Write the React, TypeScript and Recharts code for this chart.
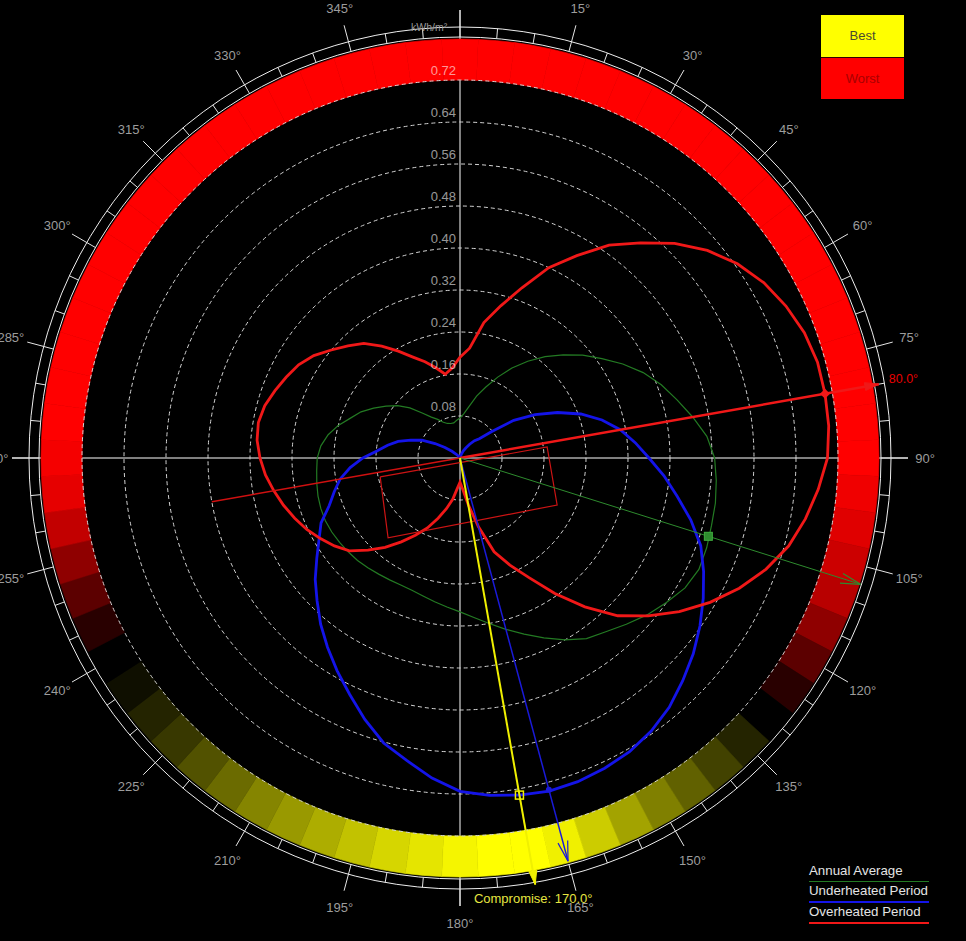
import React from 'react';
import {
  RadarChart, Radar, PolarGrid, PolarAngleAxis, PolarRadiusAxis,
  PieChart, Pie, Cell, ComposedChart, Line, Scatter, XAxis, YAxis, ReferenceLine,
} from 'recharts';

// compass angles, clockwise from north (categories of the radar)
const ANGLES = [
  0, 5, 10, 15, 20, 25, 30, 35, 40, 45, 50, 55, 60, 65, 70, 75, 80, 85,
  90, 95, 100, 105, 110, 115, 120, 125, 130, 135, 140, 145, 150, 155, 160, 165, 170, 175,
  180, 185, 190, 195, 200, 205, 210, 215, 220, 225, 230, 235, 240, 245, 250, 255, 260, 265,
  270, 275, 280, 285, 290, 295, 300, 305, 310, 315, 320, 325, 330, 335, 340, 345, 350, 355,
];

// incident radiation, kWh/m²
const OVERHEATED = [
  0.192, 0.21, 0.262, 0.3, 0.345, 0.4, 0.445, 0.495, 0.535, 0.578, 0.615, 0.645, 0.668, 0.685, 0.698, 0.705, 0.706, 0.705,
  0.7, 0.685, 0.668, 0.648, 0.62, 0.587, 0.55, 0.51, 0.468, 0.425, 0.37, 0.315, 0.263, 0.225, 0.19, 0.135, 0.09, 0.06,
  0.046, 0.058, 0.08, 0.1, 0.122, 0.147, 0.17, 0.195, 0.222, 0.248, 0.275, 0.292, 0.307, 0.322, 0.335, 0.348, 0.36, 0.372,
  0.381, 0.388, 0.39, 0.385, 0.375, 0.365, 0.355, 0.34, 0.32, 0.302, 0.285, 0.26, 0.235, 0.212, 0.195, 0.178, 0.162, 0.172,
];
const UNDERHEATED = [
  0, 0, 0, 0.003, 0.008, 0.015, 0.022, 0.032, 0.043, 0.052, 0.078, 0.125, 0.165, 0.205, 0.245, 0.28, 0.31, 0.335,
  0.36, 0.39, 0.42, 0.455, 0.488, 0.512, 0.535, 0.558, 0.58, 0.6, 0.62, 0.635, 0.646, 0.652, 0.656, 0.657, 0.652, 0.645,
  0.635, 0.612, 0.585, 0.562, 0.53, 0.497, 0.468, 0.44, 0.413, 0.385, 0.36, 0.333, 0.31, 0.292, 0.265, 0.248, 0.232, 0.21,
  0.185, 0.158, 0.14, 0.122, 0.1, 0.08, 0.055, 0.035, 0.02, 0.01, 0.005, 0.002, 0, 0, 0, 0, 0, 0,
];
const ANNUAL_AVG = [
  0.076, 0.085, 0.1, 0.122, 0.144, 0.17, 0.198, 0.225, 0.252, 0.278, 0.305, 0.33, 0.358, 0.385, 0.408, 0.428, 0.45, 0.472,
  0.485, 0.49, 0.494, 0.496, 0.5, 0.502, 0.495, 0.48, 0.465, 0.448, 0.432, 0.42, 0.4, 0.378, 0.357, 0.338, 0.32, 0.305,
  0.293, 0.285, 0.278, 0.272, 0.268, 0.267, 0.268, 0.27, 0.273, 0.276, 0.278, 0.28, 0.282, 0.283, 0.282, 0.28, 0.277, 0.274,
  0.272, 0.266, 0.255, 0.24, 0.222, 0.208, 0.19, 0.172, 0.155, 0.135, 0.112, 0.095, 0.085, 0.075, 0.07, 0.068, 0.068, 0.072,
];

// orientation rating per angle: 0 = worst (red), 0.5 = neutral, 1 = best (yellow)
const RATING = [
  0, 0, 0, 0, 0, 0, 0, 0, 0, 0, 0, 0, 0, 0, 0, 0, 0, 0,
  0, 0.03, 0.06, 0.1, 0.14, 0.22, 0.32, 0.42, 0.5, 0.57, 0.63, 0.69, 0.75, 0.82, 0.9, 0.97, 1, 1,
  0.98, 0.95, 0.92, 0.88, 0.84, 0.8, 0.76, 0.71, 0.66, 0.61, 0.57, 0.53, 0.5, 0.42, 0.32, 0.22, 0.12, 0.05,
  0.02, 0, 0, 0, 0, 0, 0, 0, 0, 0, 0, 0, 0, 0, 0, 0, 0, 0,
];

const RADIUS_TICKS = [0.08, 0.16, 0.24, 0.32, 0.4, 0.48, 0.56, 0.64, 0.72];

// optimum orientations: overheated, annual average, underheated, compromise
const OPT_KEYS = ['over', 'avg', 'under', 'compromise'];
const OPT_ANGLES = [80, 107.5, 165, 170];
const OPT_MARKS = [0.706, 0.496, 0.654, 0.652];
const OPT_REACH = [0.81, 0.8, 0.795, 0.825];
const OPT_LABELS = ['80.0°', '', '', 'Compromise: 170.0°'];
const OVER_BACK_ANGLE = 260;
const OVER_BACK_VALUE = 0.48;

// building outline (x = east, y = north, kWh/m² units)
const BUILDING_X = [-0.152, -0.137, 0.185, 0.166, -0.152];
const BUILDING_Y = [-0.036, -0.152, -0.0895, 0.021, -0.036];

const W = 966;
const H = 941;
const CX = 460;
const CY = 458;
const R_MAX = 378; // radius of the 0.72 ring
const V_MAX = 0.72;
const PX = R_MAX / V_MAX; // px per kWh/m², also the radius of 1.0
const BAND_OUT = 419;
const RING_IN = 421;
const RING_OUT = 431;
const MAJOR_OUT = 448;
const LABEL_R = 465;
const FONT = '"Liberation Sans", Arial, sans-serif';
const NOMARGIN = { top: 0, right: 0, bottom: 0, left: 0 };

const X_DOMAIN = [-CX / PX, (W - CX) / PX];
const Y_DOMAIN = [-(H - CY) / PX, CY / PX];

const STYLE: Record<string, any> = {
  over: { color: '#f01818', width: 2.5, arrow: 'solid', mark: 'diamond', text: '#e80000' },
  avg: { color: '#2e8b2e', width: 1, arrow: 'open', mark: 'square' },
  under: { color: '#1a1ad8', width: 1.5, arrow: 'open', mark: 'dot' },
  compromise: { color: '#f0f000', width: 2, arrow: 'solid', mark: 'box', text: '#e6e640' },
};

const SERIES = [
  { key: 'avg', name: 'Annual Average', color: '#237a23', width: 1.2 },
  { key: 'under', name: 'Underheated Period', color: '#1414e8', width: 2.8 },
  { key: 'over', name: 'Overheated Period', color: '#f01818', width: 2.8 },
];

const rad = (a: number) => (a * Math.PI) / 180;
const polar = (angle: number, value: number) => ({
  x: value * Math.sin(rad(angle)),
  y: value * Math.cos(rad(angle)),
});

const radarRows = ANGLES.map((a, i) => ({
  angle: a,
  over: OVERHEATED[i],
  under: UNDERHEATED[i],
  avg: ANNUAL_AVG[i],
}));

const bandRows = ANGLES.map((a, i) => ({ angle: a, w: 1, rating: RATING[i] }));

const bandColor = (s: number) => {
  if (s <= 0.5) return `rgb(${Math.round(255 * (1 - 2 * s))},0,0)`;
  const k = Math.round(255 * (2 * s - 1));
  return `rgb(${k},${k},0)`;
};

const buildingRows = BUILDING_X.map((x, i) => ({ x, y: BUILDING_Y[i] }));

const optLines = OPT_KEYS.map((key, i) => {
  const pts = [{ x: 0, y: 0, key, angle: OPT_ANGLES[i], label: '' }];
  pts.push({ ...polar(OPT_ANGLES[i], OPT_REACH[i]), key, angle: OPT_ANGLES[i], label: OPT_LABELS[i] });
  return pts;
});
const overBack = [{ x: 0, y: 0 }, polar(OVER_BACK_ANGLE, OVER_BACK_VALUE)];
const optMarks = OPT_KEYS.map((key, i) => ({ ...polar(OPT_ANGLES[i], OPT_MARKS[i]), key }));

const AngleTick = (props: any) => {
  const a = Number(props.payload.value);
  const sx = Math.sin(rad(a));
  const sy = -Math.cos(rad(a));
  const major = a % 15 === 0;
  const r2 = major ? MAJOR_OUT : RING_OUT;
  // the north label sits above the window in the original, so it is not drawn
  return (
    <g>
      <line x1={CX + sx * RING_IN} y1={CY + sy * RING_IN} x2={CX + sx * r2} y2={CY + sy * r2} stroke="#e6e6e6" strokeWidth={1} />
      {major && a !== 0 && (
        <text x={CX + sx * LABEL_R} y={CY + sy * LABEL_R} textAnchor="middle" dominantBaseline="central"
          fill="#9c9c9c" fontSize={13} fontFamily={FONT}>
          {a}°
        </text>
      )}
    </g>
  );
};

const RadiusTick = (props: any) => (
  <text x={props.x - 4} y={props.y - 5} textAnchor="end" fill="rgba(255,255,255,0.6)" fontSize={13} fontFamily={FONT}>
    {Number(props.payload.value).toFixed(2)}
  </text>
);

const ArrowTip = (props: any) => {
  const { cx, cy, payload, index } = props;
  if (index === 0 || cx == null) return <g key={`t${index}`} />;
  const st = STYLE[payload.key];
  const a = rad(payload.angle);
  const ux = Math.sin(a);
  const uy = -Math.cos(a);
  const px = -uy;
  const py = ux;
  const len = st.arrow === 'open' ? 20 : 14;
  const half = st.arrow === 'open' ? 5 : 4;
  const bx = cx - ux * len;
  const by = cy - uy * len;
  const p1 = `${bx + px * half},${by + py * half}`;
  const p2 = `${bx - px * half},${by - py * half}`;
  return (
    <g key={`t${index}`}>
      {st.arrow === 'open' ? (
        <polyline points={`${p1} ${cx},${cy} ${p2}`} fill="none" stroke={st.color} strokeWidth={1.2} />
      ) : (
        <polygon points={`${p1} ${cx},${cy} ${p2}`} fill={st.color} stroke={st.color} />
      )}
      {payload.label && payload.key === 'over' && (
        <text x={cx + 10} y={cy - 1} fill={st.text} fontSize={12.5} fontFamily={FONT}>{payload.label}</text>
      )}
      {payload.label && payload.key === 'compromise' && (
        <text x={cx - 2} y={cy + 18} textAnchor="middle" fill={st.text} fontSize={13} fontFamily={FONT}>{payload.label}</text>
      )}
    </g>
  );
};

const Marker = (props: any) => {
  const { cx, cy, payload } = props;
  const st = STYLE[payload.key];
  if (st.mark === 'box') {
    return <rect x={cx - 4} y={cy - 4} width={8} height={8} fill="none" stroke={st.color} strokeWidth={1.5} />;
  }
  if (st.mark === 'square') {
    return <rect x={cx - 4} y={cy - 4} width={8} height={8} fill={st.color} stroke="#3fae3f" />;
  }
  if (st.mark === 'diamond') {
    return <polygon points={`${cx},${cy - 5} ${cx + 5},${cy} ${cx},${cy + 5} ${cx - 5},${cy}`} fill={st.color} />;
  }
  return <circle cx={cx} cy={cy} r={3} fill={st.color} />;
};

const layer: React.CSSProperties = { position: 'absolute', left: 0, top: 0 };

export default function App() {
  const reach = MAJOR_OUT / PX;
  return (
    <div style={{ position: 'absolute', left: 0, top: 0, width: W, height: H, background: '#000', overflow: 'hidden', fontFamily: FONT }}>
      {/* crosshair */}
      <div style={layer}>
        <ComposedChart width={W} height={H} margin={NOMARGIN}>
          <XAxis type="number" dataKey="x" domain={X_DOMAIN} hide allowDataOverflow />
          <YAxis type="number" dataKey="y" domain={Y_DOMAIN} hide allowDataOverflow />
          <ReferenceLine segment={[{ x: -reach, y: 0 }, { x: reach, y: 0 }]} stroke="#ffffff" ifOverflow="visible" />
          <ReferenceLine segment={[{ x: 0, y: -reach }, { x: 0, y: reach }]} stroke="#ffffff" ifOverflow="visible" />
        </ComposedChart>
      </div>

      {/* best / worst band */}
      <div style={layer}>
        <PieChart width={W} height={H} margin={NOMARGIN}>
          <Pie data={bandRows} dataKey="w" nameKey="angle" cx={CX} cy={CY} innerRadius={R_MAX} outerRadius={BAND_OUT}
            startAngle={92.5} endAngle={-267.5} paddingAngle={0} isAnimationActive={false}>
            {bandRows.map((r) => (
              <Cell key={r.angle} fill={bandColor(r.rating)} stroke={bandColor(r.rating)} strokeWidth={0.6} />
            ))}
          </Pie>
        </PieChart>
      </div>

      {/* grid, axes and radiation curves; radius axis runs 0..1 kWh/m² over PX pixels */}
      <div style={layer}>
        <RadarChart width={W} height={H} data={radarRows} cx={CX} cy={CY} outerRadius={PX} margin={NOMARGIN}
          startAngle={90} endAngle={-270}>
          <PolarGrid gridType="circle" radialLines={false} stroke="#d4d4d4" strokeDasharray="4 3" />
          <PolarGrid gridType="circle" radialLines={false} polarRadius={[RING_IN, RING_OUT]} stroke="#eeeeee" />
          <PolarAngleAxis dataKey="angle" axisLine={false} tickLine={false} tick={AngleTick} />
          <PolarRadiusAxis angle={90} type="number" domain={[0, 1]} allowDataOverflow ticks={RADIUS_TICKS}
            axisLine={false} tickLine={false} tick={RadiusTick} />
          {SERIES.map((s) => (
            <Radar key={s.key} name={s.name} dataKey={s.key} stroke={s.color} strokeWidth={s.width}
              fill="none" fillOpacity={0} dot={false} activeDot={false} isAnimationActive={false} />
          ))}
        </RadarChart>
      </div>

      {/* optimum orientation lines and building */}
      <div style={layer}>
        <ComposedChart width={W} height={H} margin={NOMARGIN}>
          <XAxis type="number" dataKey="x" domain={X_DOMAIN} hide allowDataOverflow />
          <YAxis type="number" dataKey="y" domain={Y_DOMAIN} hide allowDataOverflow />
          <Line data={buildingRows} dataKey="y" type="linear" stroke="#cc1414" strokeWidth={1.2} dot={false}
            activeDot={false} isAnimationActive={false} />
          <Line data={overBack} dataKey="y" type="linear" stroke="#d01010" strokeWidth={1.4} dot={false}
            activeDot={false} isAnimationActive={false} />
          {optLines.map((pts) => (
            <Line key={pts[0].key} data={pts} dataKey="y" type="linear" stroke={STYLE[pts[0].key].color}
              strokeWidth={STYLE[pts[0].key].width} dot={ArrowTip} activeDot={false} isAnimationActive={false} />
          ))}
          <Scatter data={optMarks} dataKey="y" shape={Marker} isAnimationActive={false} />
        </ComposedChart>
      </div>

      <div style={{ position: 'absolute', left: 411, top: 21, fontSize: 10.5, color: '#9a9a9a' }}>kWh/m²</div>

      <div style={{ position: 'absolute', left: 821, top: 15, width: 83 }}>
        <div style={{ height: 42, background: '#ffff00', color: '#4a4a30', fontSize: 13, lineHeight: '42px', textAlign: 'center' }}>Best</div>
        <div style={{ height: 41, background: '#ff0000', color: '#a80000', fontSize: 13, lineHeight: '41px', textAlign: 'center', borderTop: '1px solid #300' }}>Worst</div>
      </div>

      <div style={{ position: 'absolute', left: 809, top: 862, width: 120 }}>
        {SERIES.map((s) => (
          <div key={s.key} style={{ height: 19, color: '#e4e4e4', fontSize: 13.3, lineHeight: '17px', borderBottom: `${s.key === 'avg' ? 1 : 2}px solid ${s.color}`, whiteSpace: 'nowrap' }}>
            {s.name}
          </div>
        ))}
      </div>
    </div>
  );
}
